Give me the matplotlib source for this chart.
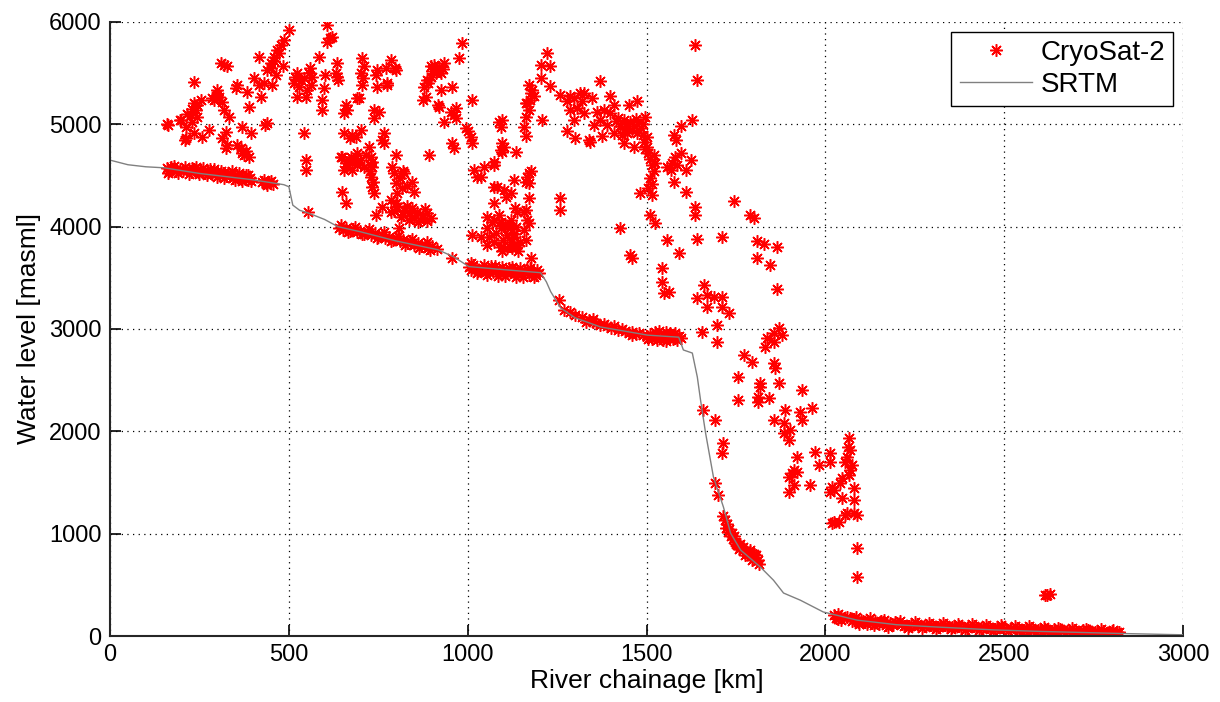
import numpy as np
import matplotlib
matplotlib.use('Agg')
import matplotlib.pyplot as plt

plt.rcParams['font.family'] = ['Liberation Sans', 'DejaVu Sans']

# SRTM profile along the river (km, masml)
srtm_km = [0, 50, 100, 151, 250, 394, 450, 486, 500, 511, 530, 553, 600, 637, 700, 800,
           916, 961, 1003, 1100, 1204, 1220, 1232, 1260, 1300, 1371, 1503, 1590, 1603,
           1628, 1642, 1651, 1665, 1687, 1715, 1735, 1763, 1818, 1855, 1883, 1930, 1994,
           2089, 2200, 2300, 2469, 2600, 2824, 2955, 3000]
srtm_m = [4650, 4605, 4585, 4575, 4520, 4460, 4430, 4410, 4390, 4210, 4160, 4135, 4070,
          4000, 3950, 3860, 3775, 3705, 3610, 3580, 3550, 3460, 3365, 3205, 3110, 3020,
          2940, 2920, 2795, 2765, 2530, 2305, 1985, 1555, 1260, 1005, 840, 675, 545, 420,
          350, 235, 155, 110, 90, 60, 45, 25, 15, 12]

# CryoSat-2 points close to the river profile
band_upper = [(160, 4570), (165, 4545), (175, 4560), (185, 4540), (195, 4565), (205, 4545),
              (215, 4555), (225, 4530), (235, 4560), (245, 4535), (255, 4550), (265, 4525),
              (275, 4545), (285, 4515), (295, 4530), (305, 4505), (315, 4520), (325, 4495),
              (335, 4510), (345, 4480), (355, 4500), (365, 4470), (375, 4490), (385, 4460),
              (390, 4480), (170, 4580), (230, 4575), (280, 4560), (330, 4525), (380, 4505),
              (425, 4440), (435, 4425), (445, 4435), (455, 4420), (440, 4410), (553, 4145),
              (162, 4525), (180, 4595), (190, 4520), (210, 4580), (220, 4515), (240, 4585),
              (250, 4510), (260, 4570), (270, 4500), (290, 4560), (300, 4485), (310, 4545),
              (320, 4475), (340, 4540), (350, 4455), (360, 4520), (370, 4445), (385, 4500),
              (395, 4445), (430, 4460), (450, 4445)]
band_mid = [(640, 3990), (650, 3965), (660, 3985), (670, 3955), (680, 3975), (690, 3945),
            (700, 3960), (710, 3930), (720, 3950), (730, 3915), (740, 3935), (750, 3900),
            (760, 3915), (770, 3885), (780, 3900), (790, 3870), (800, 3885), (810, 3855),
            (820, 3870), (830, 3840), (840, 3855), (850, 3825), (860, 3840), (870, 3810),
            (880, 3825), (890, 3795), (900, 3810), (915, 3780), (957, 3690),
            (645, 4020), (665, 3945), (685, 4000), (705, 3925), (725, 3975), (745, 3890),
            (765, 3945), (785, 3855), (805, 3910), (825, 3820), (845, 3880), (865, 3790),
            (885, 3850), (895, 3770),
            (1005, 3610), (1010, 3575), (1020, 3600), (1030, 3565), (1040, 3595), (1050, 3560),
            (1060, 3590), (1070, 3555), (1080, 3585), (1090, 3550), (1100, 3580), (1110, 3545),
            (1120, 3575), (1130, 3540), (1140, 3570), (1150, 3535), (1160, 3565), (1170, 3530),
            (1180, 3560), (1190, 3530), (1200, 3550), (1015, 3625), (1065, 3615), (1115, 3600),
            (1165, 3590), (1010, 3640), (1025, 3545), (1045, 3630), (1055, 3530), (1075, 3620),
            (1085, 3520), (1095, 3610), (1105, 3515), (1125, 3605), (1135, 3510), (1145, 3600),
            (1155, 3505), (1175, 3595), (1185, 3510), (1195, 3580)]
band_plateau = [(1254, 3283), (1270, 3190), (1285, 3165), (1300, 3140), (1320, 3120),
                (1340, 3090), (1350, 3070), (1360, 3060), (1370, 3040), (1380, 3050),
                (1400, 3010), (1410, 3030), (1420, 2990), (1440, 2980), (1450, 2960),
                (1460, 2975), (1470, 2950), (1480, 2960), (1490, 2945), (1500, 2930),
                (1510, 2950), (1520, 2920), (1530, 2945), (1540, 2915), (1550, 2940),
                (1560, 2915), (1570, 2940), (1580, 2915), (1590, 2935), (1515, 2900),
                (1545, 2895), (1575, 2900), (1525, 2970), (1565, 2965), (1530, 2890),
                (1555, 2880), (1585, 2890), (1535, 2985), (1555, 2975), (1580, 2960),
                (1595, 2910), (1505, 2905), (1460, 2940), (1430, 3000), (1390, 3030),
                (1350, 3100), (1330, 3070)]
band_gorge = [(1718, 1130), (1722, 1060), (1728, 1020), (1735, 980), (1742, 950), (1748, 920),
              (1755, 890), (1762, 870), (1770, 840), (1778, 820), (1785, 800), (1792, 780),
              (1800, 760), (1808, 730), (1815, 700), (1725, 1090), (1740, 1010), (1760, 900),
              (1790, 820), (1770, 870), (1800, 800), (1790, 839), (1715, 1170), (1730, 1050),
              (1745, 980), (1758, 850), (1775, 790), (1795, 740), (1805, 790), (1812, 740),
              (1750, 900)]
band_lower = [(2025, 210), (2030, 180), (2035, 215), (2040, 190), (2045, 200), (2070, 175),
              (2075, 150), (2080, 165), (2090, 140), (2100, 160), (2110, 135), (2120, 150),
              (2130, 125), (2140, 145), (2150, 120), (2160, 135), (2170, 110), (2180, 130),
              (2190, 105), (2200, 125), (2220, 100), (2240, 115), (2260, 95), (2280, 110),
              (2300, 90), (2320, 105), (2340, 85), (2360, 100), (2380, 80), (2400, 95),
              (2420, 75), (2440, 90), (2460, 70), (2480, 85), (2500, 65), (2520, 80),
              (2540, 60), (2560, 75), (2580, 55), (2600, 70), (2620, 50), (2640, 65),
              (2660, 45), (2680, 60), (2700, 40), (2720, 55), (2740, 35), (2760, 50),
              (2780, 30), (2800, 45), (2810, 25), (2820, 35), (2815, 12),
              (2035, 170), (2085, 185), (2095, 120), (2125, 175), (2135, 105), (2165, 160),
              (2175, 90), (2210, 145), (2230, 80), (2250, 135), (2270, 75), (2290, 130),
              (2310, 70), (2330, 125), (2350, 65), (2370, 120), (2390, 60), (2410, 115),
              (2430, 55), (2450, 110), (2470, 50), (2490, 105), (2510, 45), (2530, 100),
              (2550, 40), (2570, 95), (2590, 35), (2610, 85), (2630, 30), (2650, 80),
              (2670, 25), (2690, 75), (2710, 20), (2730, 70), (2750, 20), (2770, 65),
              (2790, 15), (2805, 55),
              (2045, 160), (2060, 185), (2105, 145), (2115, 120), (2145, 130), (2155, 150),
              (2185, 115), (2195, 140), (2215, 120), (2235, 100), (2255, 115), (2275, 95),
              (2295, 110), (2315, 90), (2335, 105), (2355, 85), (2375, 100), (2395, 80),
              (2415, 95), (2435, 75), (2455, 90), (2475, 70), (2495, 85), (2515, 65),
              (2535, 80), (2555, 60), (2575, 75), (2595, 55), (2615, 70), (2635, 50),
              (2655, 65), (2675, 45), (2695, 60), (2715, 40), (2735, 55), (2755, 35),
              (2775, 50), (2795, 30), (2815, 40)]

# CryoSat-2 outliers (mostly snow / mountain returns)
upper_west = [(158, 4999), (161, 4994), (196, 5043), (198, 5043), (212, 4978), (226, 5092),
              (240, 5141), (244, 5076), (230, 5027), (254, 5239), (235, 5206), (215, 5100),
              (228, 5150), (242, 5190), (212, 4864), (235, 4913), (258, 4880), (277, 4945),
              (209, 4848), (235, 5418), (291, 5239), (305, 5271), (314, 5222), (300, 5337),
              (319, 5141), (333, 5076), (285, 5260), (298, 5290), (310, 5597), (328, 5565),
              (320, 5580), (324, 4929), (314, 4864), (328, 4799), (324, 4766), (356, 5385),
              (351, 5353), (384, 5320), (389, 5173), (370, 4978), (356, 4799), (365, 4766),
              (370, 4717), (389, 4684), (393, 4913), (380, 4740), (375, 4700), (403, 5450),
              (417, 5385), (421, 5271), (417, 5662), (440, 5010), (433, 4990), (440, 5532),
              (449, 5597), (459, 5662), (468, 5727), (477, 5776), (486, 5825), (454, 5385),
              (431, 5401), (463, 5483), (450, 5550), (472, 5700), (458, 5620), (500, 5923),
              (484, 5565), (542, 4913), (547, 4554), (547, 4650), (524, 5499), (542, 5450),
              (566, 5467), (561, 5385), (552, 5336), (528, 5369), (514, 5401), (547, 5271),
              (524, 5271), (535, 5430), (555, 5500), (518, 5460), (560, 5550), (584, 5662),
              (598, 5353), (594, 5239), (594, 5141), (600, 5480), (607, 5972), (621, 5858),
              (607, 5809), (614, 5840), (635, 5597), (635, 5467), (638, 5430), (631, 5499)]
upper_mid = [(663, 5141), (654, 5108), (691, 5255), (696, 5255), (659, 5190), (654, 4913),
             (687, 4880), (677, 4896), (701, 4945), (670, 4865), (649, 4684), (673, 4684),
             (663, 4587), (682, 4652), (677, 4554), (691, 4717), (645, 4684), (668, 4652),
             (654, 4554), (660, 4620), (690, 4600), (700, 4650), (710, 4580), (715, 4700),
             (649, 4342), (659, 4228), (705, 5646), (710, 5565), (701, 5499), (705, 5385),
             (708, 5450), (747, 5532), (743, 5483), (771, 5548), (785, 5630), (799, 5532),
             (747, 5369), (775, 5402), (773, 5385), (796, 5550), (738, 5141), (752, 5125),
             (738, 5059), (766, 4913), (766, 4815), (760, 4850), (724, 4782), (729, 4684),
             (733, 4587), (729, 4489), (733, 4391), (738, 4326), (728, 4540), (735, 4440),
             (732, 4630), (799, 4701), (789, 4587), (794, 4521), (799, 4424), (803, 4326),
             (822, 4521), (845, 4440), (850, 4342), (819, 4540), (810, 4480), (830, 4400),
             (815, 4380), (785, 4261), (803, 4196), (822, 4163), (840, 4130), (859, 4147),
             (887, 4130), (896, 4081), (813, 4098), (836, 4065), (785, 4147), (868, 4065),
             (800, 4230), (830, 4200), (850, 4080), (875, 4110), (880, 4170), (860, 4050),
             (820, 4110), (795, 4150), (845, 4180), (885, 4060), (892, 4701), (743, 4114),
             (761, 4196), (808, 3984), (896, 5565), (915, 5532), (934, 5597), (887, 5434),
             (878, 5369), (896, 5467), (924, 5499), (882, 5271), (924, 5336), (957, 5369),
             (905, 5580), (920, 5560), (910, 5500), (930, 5540), (900, 5520), (890, 5400),
             (875, 5240), (975, 5646), (985, 5793), (920, 5173), (952, 5125), (966, 5157),
             (966, 5059), (934, 5027), (917, 5190), (963, 5090), (1013, 5239), (957, 4815),
             (961, 4766), (994, 4962), (1008, 4880), (1013, 4815), (1000, 4930)]
upper_east = [(1087, 5027), (1092, 4978), (1096, 5043), (1101, 4782), (1096, 4733),
              (1134, 4733), (1092, 4750), (1097, 4816), (1073, 4603), (1045, 4587),
              (1017, 4554), (1027, 4489), (1073, 4636), (1036, 4490), (1083, 4391),
              (1101, 4358), (1120, 4326), (1129, 4456), (1162, 4440), (1106, 4294),
              (1073, 4392), (1166, 4490), (1176, 4539), (1171, 4424), (1162, 5206),
              (1157, 4978), (1171, 5386), (1176, 5305), (1185, 5272), (1166, 5207),
              (1171, 5142), (1162, 5076), (1162, 4881), (1180, 5340), (1175, 5240),
              (1208, 5044), (1073, 4228), (1055, 4098), (1073, 4065), (1092, 4049),
              (1110, 4000), (1138, 4147), (1134, 4000), (1166, 4065), (1157, 3967),
              (1120, 4065), (1087, 4114), (1068, 4049), (1012, 3918), (1036, 3902),
              (1054, 3820), (1073, 3853), (1092, 3804), (1110, 3788), (1124, 3788),
              (1138, 3820), (1110, 3918), (1092, 3984), (1054, 3984), (1129, 3902),
              (1147, 3853), (1119, 3984), (1080, 3940), (1100, 3870), (1120, 3850),
              (1060, 3900), (1140, 3760), (1095, 3760), (1130, 3930), (1105, 4020),
              (1171, 4523), (1171, 4278), (1162, 4164), (1171, 4034), (1162, 3871),
              (1176, 3691), (1157, 4147), (1133, 4180), (1222, 5696), (1204, 5582),
              (1231, 5565), (1204, 5451), (1231, 5370), (1259, 5288), (1287, 5272),
              (1315, 5305), (1320, 5223), (1348, 5256), (1278, 5223), (1296, 5255),
              (1324, 5304), (1287, 5142), (1306, 5158), (1325, 5109), (1297, 5044),
              (1278, 4930), (1301, 4865), (1343, 4831), (1371, 5419), (1362, 5125),
              (1380, 5142), (1399, 5109), (1408, 5191), (1399, 5272), (1371, 5044),
              (1353, 4995), (1339, 4848), (1450, 5191), (1474, 5223), (1497, 5076),
              (1376, 4881), (1408, 4913), (1427, 4979), (1446, 4979), (1464, 4979),
              (1446, 4913), (1474, 4913), (1436, 5044), (1420, 5060), (1455, 5020),
              (1485, 4960), (1390, 4990), (1415, 5030), (1470, 5050), (1440, 4950),
              (1460, 4940), (1490, 5000), (1430, 4900), (1436, 4815), (1464, 4782),
              (1492, 4830), (1500, 4780), (1505, 4720), (1510, 4660), (1515, 4600),
              (1520, 4540), (1510, 4480), (1515, 4420), (1505, 4380), (1495, 4760),
              (1520, 4700), (1525, 4620), (1500, 4880), (1490, 4900), (1483, 4326),
              (1515, 4310), (1571, 4620), (1580, 4685), (1595, 4718), (1623, 4653),
              (1595, 4979), (1576, 4897), (1581, 4848), (1567, 4555), (1576, 4441),
              (1609, 4555), (1609, 4343), (1627, 5044), (1557, 4587), (1585, 4600),
              (1636, 5777), (1641, 5435), (1636, 4196), (1636, 4115), (1510, 4114),
              (1524, 4033), (1427, 3985), (1455, 3724), (1460, 3691), (1259, 4278),
              (1259, 4163), (1558, 3871), (1590, 3740), (1544, 3594), (1544, 3463),
              (1548, 3348), (1562, 3364)]
upper_far = [(1641, 3880), (1711, 3903), (1744, 4246), (1790, 4115), (1800, 4083),
             (1809, 3855), (1828, 3828), (1865, 3805), (1809, 3691), (1846, 3626),
             (1865, 3388), (1660, 3430), (1641, 3300), (1669, 3333), (1688, 3316),
             (1711, 3316), (1711, 3219), (1669, 3219), (1730, 3153), (1697, 3039),
             (1655, 2974), (1697, 2876), (1870, 3007), (1856, 2958), (1837, 2909),
             (1879, 2942), (1856, 2876), (1832, 2827), (1772, 2746), (1794, 2681),
             (1757, 2534), (1757, 2306), (1855, 2665), (1860, 2616), (1869, 2469),
             (1934, 2404), (1818, 2436), (1841, 2322), (1818, 2469), (1813, 2339),
             (1813, 2290), (1888, 2209), (1930, 2192), (1962, 2225), (1934, 2111),
             (1855, 2111), (1883, 2078), (1902, 2013), (1883, 1980), (1897, 1915),
             (1659, 2208), (1692, 2110), (1715, 1882), (1711, 1784), (1692, 1491),
             (1701, 1377), (1920, 1752), (1911, 1622), (1920, 1605), (1897, 1556),
             (1897, 1410), (1911, 1475), (1958, 1475), (1906, 1589), (1972, 1801),
             (1981, 1670), (2013, 1784), (2013, 1703), (2065, 1932), (2069, 1818),
             (2060, 1752), (2055, 1703), (2074, 1671), (2069, 1622), (2065, 1573),
             (2062, 1850), (2046, 1540), (2041, 1491), (2018, 1459), (2013, 1410),
             (2046, 1345), (2079, 1443), (2079, 1329), (2023, 1426), (2060, 1198),
             (2079, 1198), (2088, 1182), (2055, 1181), (2023, 1117), (2037, 1117),
             (2018, 1100), (2088, 856), (2088, 579), (2614, 399), (2628, 415), (2620, 405)]

cryo = np.array(band_upper + band_mid + band_plateau + band_gorge + band_lower +
                upper_west + upper_mid + upper_east + upper_far)

fig = plt.figure(figsize=(12.2, 7.02), dpi=100)
ax = fig.add_axes([0.0902, 0.094, 0.8795, 0.8747])

ax.plot(cryo[:, 0], cryo[:, 1], linestyle='none', marker=(8, 2, 0), markersize=9,
        markeredgewidth=1.1, color='red', label='CryoSat-2')
ax.plot(srtm_km, srtm_m, color='#808080', linewidth=1.0, label='SRTM')

ax.set_xlim(0, 3000)
ax.set_ylim(0, 6000)
ax.set_xticks(np.arange(0, 3001, 500))
ax.set_yticks(np.arange(0, 6001, 1000))
ax.grid(True, color='black', linestyle=(0, (1, 3.5)), linewidth=0.9)
ax.set_axisbelow(True)
ax.tick_params(direction='in', length=8, width=1.2, labelsize=17, pad=6)
for s in ['top', 'right']:
    ax.spines[s].set_visible(False)
for s in ['left', 'bottom']:
    ax.spines[s].set_linewidth(1.5)
    ax.spines[s].set_color('#262626')

ax.set_xlabel('River chainage [km]', fontsize=19, labelpad=2)
ax.set_ylabel('Water level [masml]', fontsize=19, labelpad=6)

leg = ax.legend(loc='upper right', fontsize=20, numpoints=1, fancybox=False,
                framealpha=1, edgecolor='black', borderaxespad=0.35,
                handlelength=2.6, handletextpad=0.3, borderpad=0.3, labelspacing=0.2)
leg.get_frame().set_linewidth(1.0)

fig.savefig('out.png', dpi=100)
